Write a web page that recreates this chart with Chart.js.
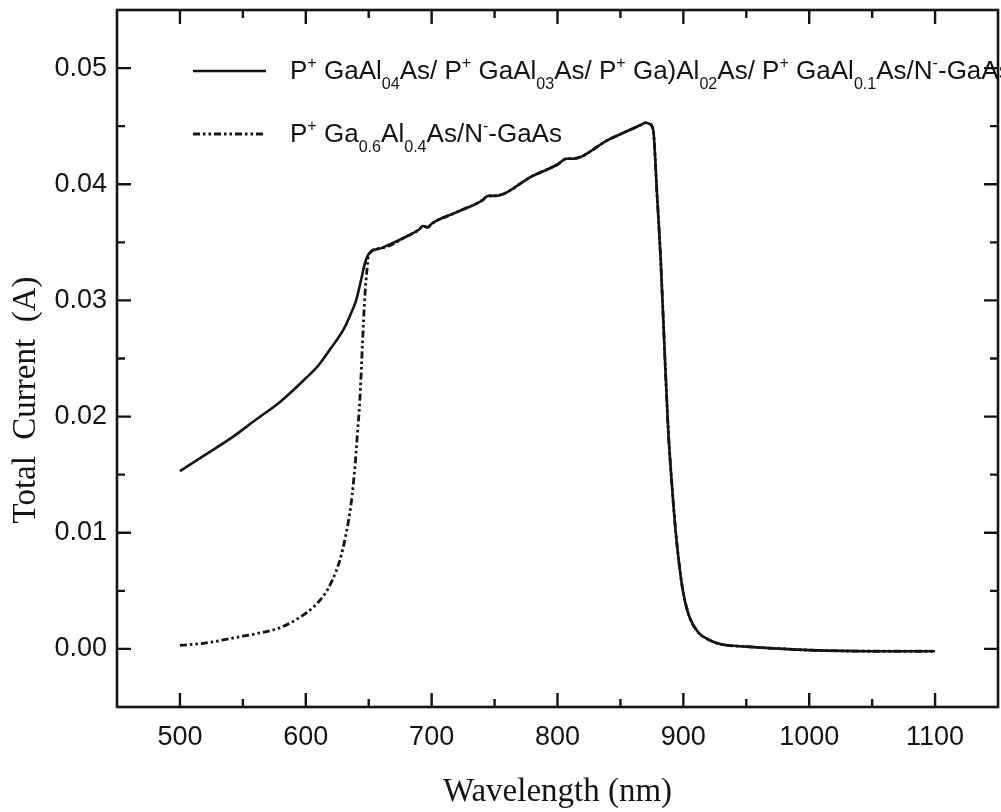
<!DOCTYPE html>
<html>
<head>
<meta charset="utf-8">
<title>Total Current vs Wavelength</title>
<script src="https://cdn.jsdelivr.net/npm/chart.js@4.4.1/dist/chart.umd.min.js"></script>
<style>
  html, body { margin: 0; padding: 0; background: #fff; }
  canvas { display: block; }
</style>
</head>
<body>
<canvas id="my-chart" width="1001" height="812"></canvas>
<script>
'use strict';

// ************************* DATA ***************************

// short wavelength side of the graded P+ GaAlAs stack
let multiWavelength = [500, 520, 540, 560, 580, 600, 610, 620, 630, 636, 640, 644, 647];
let multiCurrent = [0.0153, 0.0167, 0.0181, 0.0197, 0.0213, 0.0233, 0.0244, 0.0259, 0.0275, 0.0289, 0.0300, 0.0318, 0.0332];

// short wavelength side of the single P+ Ga0.6Al0.4As layer
let singleWavelength = [500, 520, 545, 560, 579, 595, 606, 615, 621, 627, 632, 636, 639, 641, 643, 645, 647, 648.5];
let singleCurrent = [0.0003, 0.0005, 0.0010, 0.0013, 0.0018, 0.0027, 0.0036, 0.0047, 0.0059, 0.0076, 0.0099, 0.0125, 0.0156, 0.0185, 0.0215, 0.0262, 0.0305, 0.0325];

// above 650 nm both structures give the same current
let sharedWavelength = [650, 660, 680, 690, 693, 697, 700, 720, 740, 745, 750, 780, 800, 807, 812, 840, 860, 866, 870, 873, 876, 879, 882, 885, 888, 891, 894, 897, 900, 905, 912, 920, 930, 950, 980, 1000, 1050, 1100];
let sharedCurrent = [0.0340, 0.0345, 0.0355, 0.0361, 0.0364, 0.0363, 0.0366, 0.0376, 0.0386, 0.0390, 0.0390, 0.0407, 0.0417, 0.0422, 0.0422, 0.0438, 0.0448, 0.0451, 0.0453, 0.0452, 0.0447, 0.0393, 0.0335, 0.0259, 0.0188, 0.0140, 0.0100, 0.0070, 0.0048, 0.0027, 0.0014, 0.0008, 0.0004, 0.0002, 0.0000, -0.0001, -0.0002, -0.0002];

let xTicks = [500, 600, 700, 800, 900, 1000, 1100];
let xMinorTicks = [550, 650, 750, 850, 950, 1050];
let yTicks = [0.00, 0.01, 0.02, 0.03, 0.04, 0.05];
let yMinorTicks = [0.005, 0.015, 0.025, 0.035, 0.045];

// legend labels, [text, 'sup' | 'sub' | undefined]
let multiLabel = [
  ['P'], ['+', 'sup'], [' GaAl'], ['04', 'sub'], ['As/ P'], ['+', 'sup'], [' GaAl'], ['03', 'sub'],
  ['As/ P'], ['+', 'sup'], [' Ga)Al'], ['02', 'sub'], ['As/ P'], ['+', 'sup'], [' GaAl'], ['0.1', 'sub'],
  ['As/N'], ['-', 'sup'], ['-GaAs']
];
let singleLabel = [
  ['P'], ['+', 'sup'], [' Ga'], ['0.6', 'sub'], ['Al'], ['0.4', 'sub'], ['As/N'], ['-', 'sup'], ['-GaAs']
];

// ********************** HELPERS **************************

function toPoints(xs, ys) {
  return xs.map((x, i) => ({ x: x, y: ys[i] }));
}

const INK = '#141414';
const SANS = "'Liberation Sans', Arial, sans-serif";
const SERIF = "'Liberation Serif', 'Times New Roman', serif";

function drawRichText(ctx, parts, x, y, size) {
  for (let i = 0; i < parts.length; i++) {
    let text = parts[i][0];
    let kind = parts[i][1];
    let s = size;
    let dy = 0;
    if (kind === 'sup') { s = size * 0.62; dy = -size * 0.42; }
    if (kind === 'sub') { s = size * 0.62; dy = size * 0.38; }
    ctx.font = `${s}px ${SANS}`;
    ctx.fillText(text, x, y + dy);
    x += ctx.measureText(text).width;
  }
  return x;
}

// no extra room for half labels at the ends of the axes
function trimPadding(scale) {
  scale.paddingTop = 0;
  scale.paddingBottom = 0;
  scale.paddingLeft = 0;
  scale.paddingRight = 0;
}

// box round the plot with inward ticks on all four sides
const frameTicks = {
  id: 'frameTicks',
  afterDraw(chart) {
    const { ctx, chartArea: a, scales: { x, y } } = chart;
    ctx.save();
    ctx.strokeStyle = INK;
    ctx.lineWidth = 2.6;
    ctx.strokeRect(a.left, a.top, a.right - a.left, a.bottom - a.top);

    ctx.lineWidth = 2.4;
    ctx.beginPath();
    const xMarks = xTicks.map(v => [v, 14]).concat(xMinorTicks.map(v => [v, 8]));
    xMarks.forEach(([v, len]) => {
      const px = x.getPixelForValue(v);
      ctx.moveTo(px, a.bottom); ctx.lineTo(px, a.bottom - len);
      ctx.moveTo(px, a.top); ctx.lineTo(px, a.top + len);
    });
    const yMarks = yTicks.map(v => [v, 14]).concat(yMinorTicks.map(v => [v, 8]));
    yMarks.forEach(([v, len]) => {
      const py = y.getPixelForValue(v);
      ctx.moveTo(a.left, py); ctx.lineTo(a.left + len, py);
      ctx.moveTo(a.right, py); ctx.lineTo(a.right - len, py);
    });
    ctx.stroke();
    ctx.restore();
  }
};

// y axis title and the two-row legend
const labels = {
  id: 'labels',
  afterDraw(chart) {
    const ctx = chart.ctx;
    ctx.save();
    ctx.fillStyle = INK;

    ctx.translate(26, 400);
    ctx.rotate(-Math.PI / 2);
    ctx.font = `33px ${SERIF}`;
    ctx.textAlign = 'center';
    ctx.textBaseline = 'middle';
    ctx.fillText('Total  Current  (A)', 0, 0);
    ctx.setTransform(1, 0, 0, 1, 0, 0);

    ctx.textAlign = 'left';
    ctx.textBaseline = 'alphabetic';
    const rows = [
      { ds: chart.data.datasets[1], label: multiLabel, y: 71 },
      { ds: chart.data.datasets[0], label: singleLabel, y: 134 }
    ];
    rows.forEach(row => {
      ctx.strokeStyle = row.ds.borderColor;
      ctx.lineWidth = row.ds.borderWidth;
      ctx.setLineDash(row.ds.borderDash || []);
      ctx.beginPath();
      ctx.moveTo(193, row.y);
      ctx.lineTo(266, row.y);
      ctx.stroke();
      drawRichText(ctx, row.label, 290, row.y + 8, 26);
    });
    ctx.restore();
  }
};

// ********************** CHART **************************

let ctx = document.getElementById('my-chart').getContext('2d');

new Chart(ctx, {
  type: 'line',
  data: {
    datasets: [
      {
        label: 'P+ Ga0.6Al0.4As/N- -GaAs',
        data: toPoints(singleWavelength.concat(sharedWavelength), singleCurrent.concat(sharedCurrent)),
        borderColor: INK,
        borderWidth: 2.8,
        borderDash: [7, 3, 2.5, 3, 2.5, 3],
        pointRadius: 0,
        cubicInterpolationMode: 'monotone',
        fill: false
      },
      {
        label: 'P+ GaAl0.4As/P+ GaAl0.3As/P+ GaAl0.2As/P+ GaAl0.1As/N- -GaAs',
        data: toPoints(multiWavelength.concat(sharedWavelength), multiCurrent.concat(sharedCurrent)),
        borderColor: INK,
        borderWidth: 2.6,
        pointRadius: 0,
        cubicInterpolationMode: 'monotone',
        fill: false
      }
    ]
  },
  options: {
    responsive: false,
    animation: false,
    layout: { padding: { left: 0, right: 3, top: 10, bottom: 0 } },
    plugins: {
      legend: { display: false },
      tooltip: { enabled: false }
    },
    scales: {
      x: {
        type: 'linear',
        min: 450,
        max: 1150,
        afterBuildTicks: scale => { scale.ticks = xTicks.map(v => ({ value: v })); },
        afterFit: scale => { scale.height = 105; trimPadding(scale); },
        grid: { drawOnChartArea: false, drawTicks: false },
        border: { display: false },
        ticks: {
          color: INK,
          padding: 14,
          font: { family: SANS, size: 27 },
          callback: v => String(v)
        },
        title: {
          display: true,
          text: 'Wavelength (nm)',
          color: INK,
          font: { family: SERIF, size: 33 },
          padding: { top: 0, bottom: 0 }
        }
      },
      y: {
        type: 'linear',
        min: -0.005,
        max: 0.055,
        afterBuildTicks: scale => { scale.ticks = yTicks.map(v => ({ value: v })); },
        afterFit: scale => { scale.width = 117; trimPadding(scale); },
        grid: { drawOnChartArea: false, drawTicks: false },
        border: { display: false },
        ticks: {
          color: INK,
          padding: 10,
          font: { family: SANS, size: 27 },
          callback: v => v.toFixed(2)
        }
      }
    }
  },
  plugins: [frameTicks, labels]
});
</script>
</body>
</html>
